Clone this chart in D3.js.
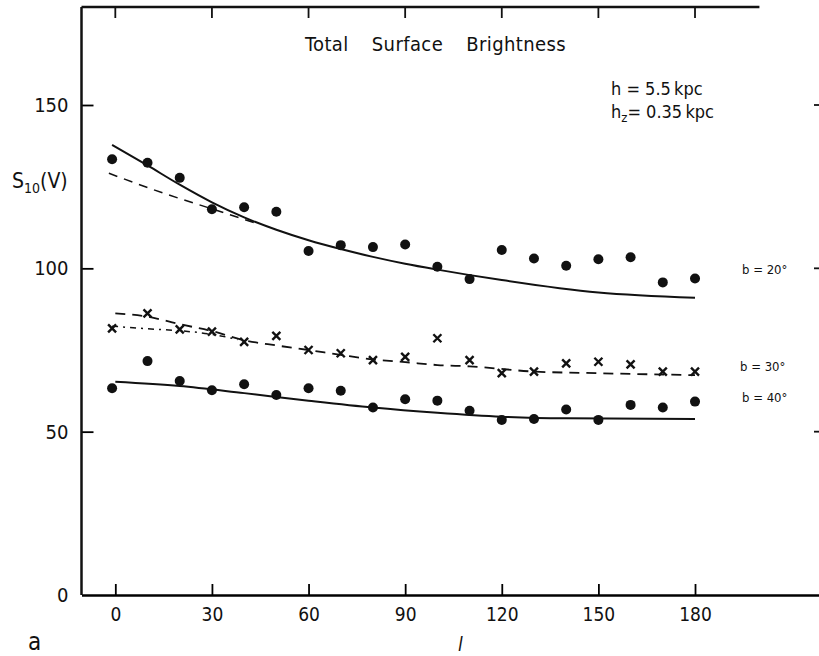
<!DOCTYPE html>
<html>
<head>
<meta charset="utf-8">
<script src="https://cdn.jsdelivr.net/npm/d3@7"></script>
<style>
  body { margin: 0; background: #fff; }
  text { font-family: "DejaVu Sans Condensed", "Liberation Sans Narrow", sans-serif; fill: #111; }
</style>
</head>
<body>
<div id="grafica"></div>
<script>
// Datos (longitud galáctica l)
const lonPuntos = [-1, 10, 20, 30, 40, 50, 60, 70, 80, 90, 100, 110, 120, 130, 140, 150, 160, 170, 180];
const puntosB20 = [133.4, 132.3, 127.7, 118.1, 118.7, 117.3, 105.3, 107.1, 106.5, 107.3, 100.5, 96.7, 105.6, 103.0, 100.8, 102.8, 103.4, 95.7, 96.9];
const puntosB30 = [81.6, 86.2, 81.3, 80.6, 77.5, 79.3, 75.0, 74.0, 71.9, 72.9, 78.6, 71.9, 67.9, 68.4, 70.9, 71.4, 70.6, 68.4, 68.4];
const puntosB40 = [63.3, 71.6, 65.5, 62.7, 64.5, 61.2, 63.3, 62.5, 57.4, 59.9, 59.5, 56.4, 53.6, 53.9, 56.8, 53.6, 58.2, 57.4, 59.2];

// Curvas del modelo
const lonModelo20 = [-1, 10, 20, 30, 40, 50, 60, 70, 80, 90, 100, 120, 150, 180];
const modelo20 = [137.8, 131.5, 125.6, 120.2, 115.6, 111.8, 108.6, 105.9, 103.5, 101.4, 99.6, 96.4, 92.6, 91.0];
const lonGuion20 = [-2, 15, 30, 45];
const guion20 = [129.1, 123.0, 118.2, 113.4];
const lonModelo30 = [0, 10, 20, 30, 40, 50, 60, 70, 80, 90, 100, 110, 130, 150, 180];
const modelo30 = [86.2, 85.2, 82.9, 80.8, 78.0, 76.4, 75.0, 73.5, 72.1, 71.3, 70.4, 70.0, 68.4, 67.9, 67.3];
const lonGuion30 = [-1, 10, 20, 30, 38];
const guion30 = [82.3, 81.5, 80.9, 79.8, 78.2];
const lonModelo40 = [0, 20, 40, 60, 80, 100, 120, 140, 180];
const modelo40 = [65.3, 64.0, 61.8, 59.5, 57.4, 55.8, 54.6, 54.1, 53.9];

const ticksX = [0, 30, 60, 90, 120, 150, 180];
const ticksY = [0, 50, 100, 150];
const etiquetasB = [{t: "b = 20°", v: 98.3, dx: 742}, {t: "b = 30°", v: 68.6, dx: 740}, {t: "b = 40°", v: 59.1, dx: 742}];

const ancho = 819, alto = 656;

var svg = d3.select("#grafica")
    .append("svg")
    .attr("width", ancho)
    .attr("height", alto);

//Escalas
var x = d3.scaleLinear().domain([-10.5, 218.5]).range([81.5, 819]);
var y = d3.scaleLinear().domain([0, 150]).range([595, 105]);

//Ejes: izquierda y abajo con marcas hacia dentro
var ejeX = d3.axisBottom(x).tickValues(ticksX).tickSize(-11).tickPadding(13).tickSizeOuter(0);
var ejeY = d3.axisLeft(y).tickValues(ticksY).tickSize(-12).tickPadding(13).tickSizeOuter(0);

var gx = svg.append("g")
    .attr("transform", "translate(0," + y(0) + ")")
    .call(ejeX);
var gy = svg.append("g")
    .attr("transform", "translate(" + x(-10.5) + ",0)")
    .call(ejeY);

gx.select(".domain").attr("stroke-width", 2.5);
gy.select(".domain").remove();
gx.selectAll("line").attr("stroke-width", 1.8);
gy.selectAll("line").attr("stroke-width", 1.8);
gy.selectAll(".tick").filter(d => d === 0).select("line").remove();
gx.selectAll("text").attr("font-size", 19).attr("font-family", "DejaVu Sans Condensed");
gy.selectAll("text").attr("font-size", 20).attr("font-family", "DejaVu Sans Condensed");

//Línea vertical izquierda y superior
svg.append("line")
    .attr("x1", x(-10.5)).attr("x2", x(-10.5))
    .attr("y1", y(180)).attr("y2", y(0))
    .attr("stroke", "#111").attr("stroke-width", 2.5);
svg.append("line")
    .attr("x1", x(-10.5)).attr("x2", x(200))
    .attr("y1", y(180)).attr("y2", y(180))
    .attr("stroke", "#111").attr("stroke-width", 2.5);

//Marcas superiores
svg.selectAll(".marcaSup")
    .data(ticksX)
    .enter()
    .append("line")
    .attr("x1", d => x(d)).attr("x2", d => x(d))
    .attr("y1", y(180)).attr("y2", y(180) + 11)
    .attr("stroke", "#111").attr("stroke-width", 1.8);

//Marcas derechas
svg.selectAll(".marcaDer")
    .data([50, 100, 150])
    .enter()
    .append("line")
    .attr("x1", 814).attr("x2", 819)
    .attr("y1", d => y(d)).attr("y2", d => y(d))
    .attr("stroke", "#111").attr("stroke-width", 1.8);

//Generador de líneas
var linea = d3.line()
    .x(d => x(d[0]))
    .y(d => y(d[1]))
    .curve(d3.curveMonotoneX);

function par(lon, val) { return lon.map((l, i) => [l, val[i]]); }

svg.append("path").datum(par(lonModelo20, modelo20))
    .attr("d", linea).attr("fill", "none").attr("stroke", "#111").attr("stroke-width", 2);
svg.append("path").datum(par(lonGuion20, guion20))
    .attr("d", linea).attr("fill", "none").attr("stroke", "#111").attr("stroke-width", 1.5)
    .attr("stroke-dasharray", "9,7");
svg.append("path").datum(par(lonModelo30, modelo30))
    .attr("d", linea).attr("fill", "none").attr("stroke", "#111").attr("stroke-width", 1.8)
    .attr("stroke-dasharray", "10,7");
svg.append("path").datum(par(lonGuion30, guion30))
    .attr("d", linea).attr("fill", "none").attr("stroke", "#111").attr("stroke-width", 1.5)
    .attr("stroke-dasharray", "6,5,2,5");
svg.append("path").datum(par(lonModelo40, modelo40))
    .attr("d", linea).attr("fill", "none").attr("stroke", "#111").attr("stroke-width", 2);

//Puntos
[puntosB20, puntosB40].forEach(function(serie) {
    svg.append("g").selectAll("circle")
        .data(par(lonPuntos, serie))
        .enter()
        .append("circle")
        .attr("cx", d => x(d[0]))
        .attr("cy", d => y(d[1]))
        .attr("r", 5)
        .style("fill", "#111");
});

//Cruces
svg.append("g").selectAll("path")
    .data(par(lonPuntos, puntosB30))
    .enter()
    .append("path")
    .attr("transform", d => "translate(" + x(d[0]) + "," + y(d[1]) + ")")
    .attr("d", "M-4,-4L4,4M-4,4L4,-4")
    .attr("stroke", "#111").attr("stroke-width", 2.4);

//Textos
svg.append("text")
    .attr("x", 305).attr("y", 51)
    .attr("font-size", 20).attr("letter-spacing", 0.4).attr("word-spacing", 17)
    .text("Total Surface Brightness");

svg.append("text")
    .attr("x", 611).attr("y", 95)
    .attr("font-size", 18)
    .text("h = 5.5\u2009kpc");

var hz = svg.append("text")
    .attr("x", 611).attr("y", 118)
    .attr("font-size", 18);
hz.append("tspan").text("h");
hz.append("tspan").attr("font-size", 13).attr("dy", 4).text("z");
hz.append("tspan").attr("dy", -4).text("= 0.35\u2009kpc");

var ylab = svg.append("text")
    .attr("x", 12).attr("y", 188)
    .attr("font-size", 21);
ylab.append("tspan").text("S");
ylab.append("tspan").attr("font-size", 14).attr("dy", 5).text("10");
ylab.append("tspan").attr("dy", -5).text("(V)");

svg.selectAll(".etiquetaB")
    .data(etiquetasB)
    .enter()
    .append("text")
    .attr("x", d => d.dx)
    .attr("y", d => y(d.v))
    .attr("font-size", 13)
    .text(d => d.t);

svg.append("text")
    .attr("x", 28).attr("y", 650)
    .attr("font-size", 24)
    .text("a");

svg.append("text")
    .attr("x", 458).attr("y", 651)
    .attr("font-size", 19).attr("font-style", "italic")
    .text("l");
</script>
</body>
</html>
